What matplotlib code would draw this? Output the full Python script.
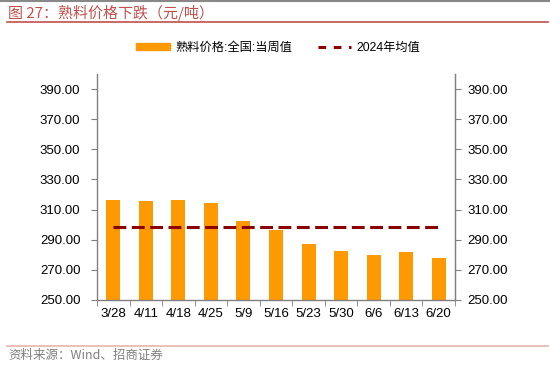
import matplotlib
matplotlib.use("Agg")
import matplotlib.pyplot as plt
from matplotlib.lines import Line2D
from matplotlib.patches import Patch
import numpy as np

plt.rcParams['font.family'] = ['Liberation Sans', 'Noto Sans CJK SC', 'DejaVu Sans']

categories = ["3/28", "4/11", "4/18", "4/25", "5/9", "5/16", "5/23", "5/30", "6/6", "6/13", "6/20"]
clinker_price = [316.7, 315.5, 316.4, 314.7, 302.4, 296.2, 287.1, 282.7, 279.8, 282.0, 278.0]
avg_2024 = [298.7] * len(categories)
yticks = [250, 270, 290, 310, 330, 350, 370, 390]

BAR_COLOR = '#FF9900'
LINE_COLOR = '#8B0000'

fig = plt.figure(figsize=(5.5, 3.77), dpi=100)
ax = fig.add_axes([97/550, 1-300/377, (455-97)/550, (300-74)/377])

x = np.arange(len(categories))
ax.bar(x, clinker_price, width=0.43, color=BAR_COLOR, zorder=2)
ax.plot(x, avg_2024, color=LINE_COLOR, linestyle=(0, (4.2, 1.8)), linewidth=2.2, zorder=3)

ax.set_ylim(250, 400)
ax.set_xlim(-0.5, len(categories) - 0.5)
ax.set_yticks(yticks)
ax.set_yticklabels([f"{v:.2f}" for v in yticks])
ax.set_xticks(x)
ax.set_xticklabels(categories)
ax.set_xticks(np.arange(-0.5, len(categories)), minor=True)
ax.tick_params(axis='x', which='major', length=0, pad=6, labelsize=9.5, colors='black')
ax.tick_params(axis='x', which='minor', length=4, color='#808080')
ax.tick_params(axis='y', length=4, color='#808080', labelsize=9.5, pad=8)

ax.spines['top'].set_visible(False)
for s in ['left', 'right', 'bottom']:
    ax.spines[s].set_color('#808080')
    ax.spines[s].set_linewidth(1)

ax2 = ax.twinx()
ax2.set_ylim(250, 400)
ax2.set_yticks(yticks)
ax2.set_yticklabels([f"{v:.2f}" for v in yticks])
ax2.tick_params(axis='y', length=4, color='#808080', labelsize=9.5, pad=5)
for s in ['top', 'left', 'bottom']:
    ax2.spines[s].set_visible(False)
ax2.spines['right'].set_color('#808080')

handles = [Patch(color=BAR_COLOR, label='熟料价格:全国:当周值'),
           Line2D([0], [0], color=LINE_COLOR, linestyle=(0, (2.5, 2.5)), linewidth=2.2, label='2024年均值')]
fig.legend(handles=handles, loc='center left', bbox_to_anchor=(136/550, 1-48/377), ncol=2, frameon=False,
           fontsize=8.8, handlelength=2.75, handleheight=0.45, columnspacing=2.1, handletextpad=0.45,
           borderpad=0, borderaxespad=0)

fig.text(8/550, 1-13/377, "图 27：熟料价格下跌（元/吨）", fontsize=10.8, color='#C0504D',
         va='center', ha='left', family=['Noto Sans CJK SC', 'DejaVu Sans'])
fig.add_artist(Line2D([7/550, 548/550], [1-22/377, 1-22/377], color='#C0504D', linewidth=1.2))
fig.add_artist(Line2D([0, 1], [1-0.5/377, 1-0.5/377], color='#888888', linewidth=1.5))
fig.add_artist(Line2D([7/550, 548/550], [1-345.5/377, 1-345.5/377], color='#E8B4A8', linewidth=1.2))
fig.text(8/550, 1-355/377, "资料来源：Wind、招商证券", fontsize=9, color='#808080', va='center', ha='left',
         family=['Noto Sans CJK SC', 'DejaVu Sans'])

fig.savefig("out.png", dpi=100)
